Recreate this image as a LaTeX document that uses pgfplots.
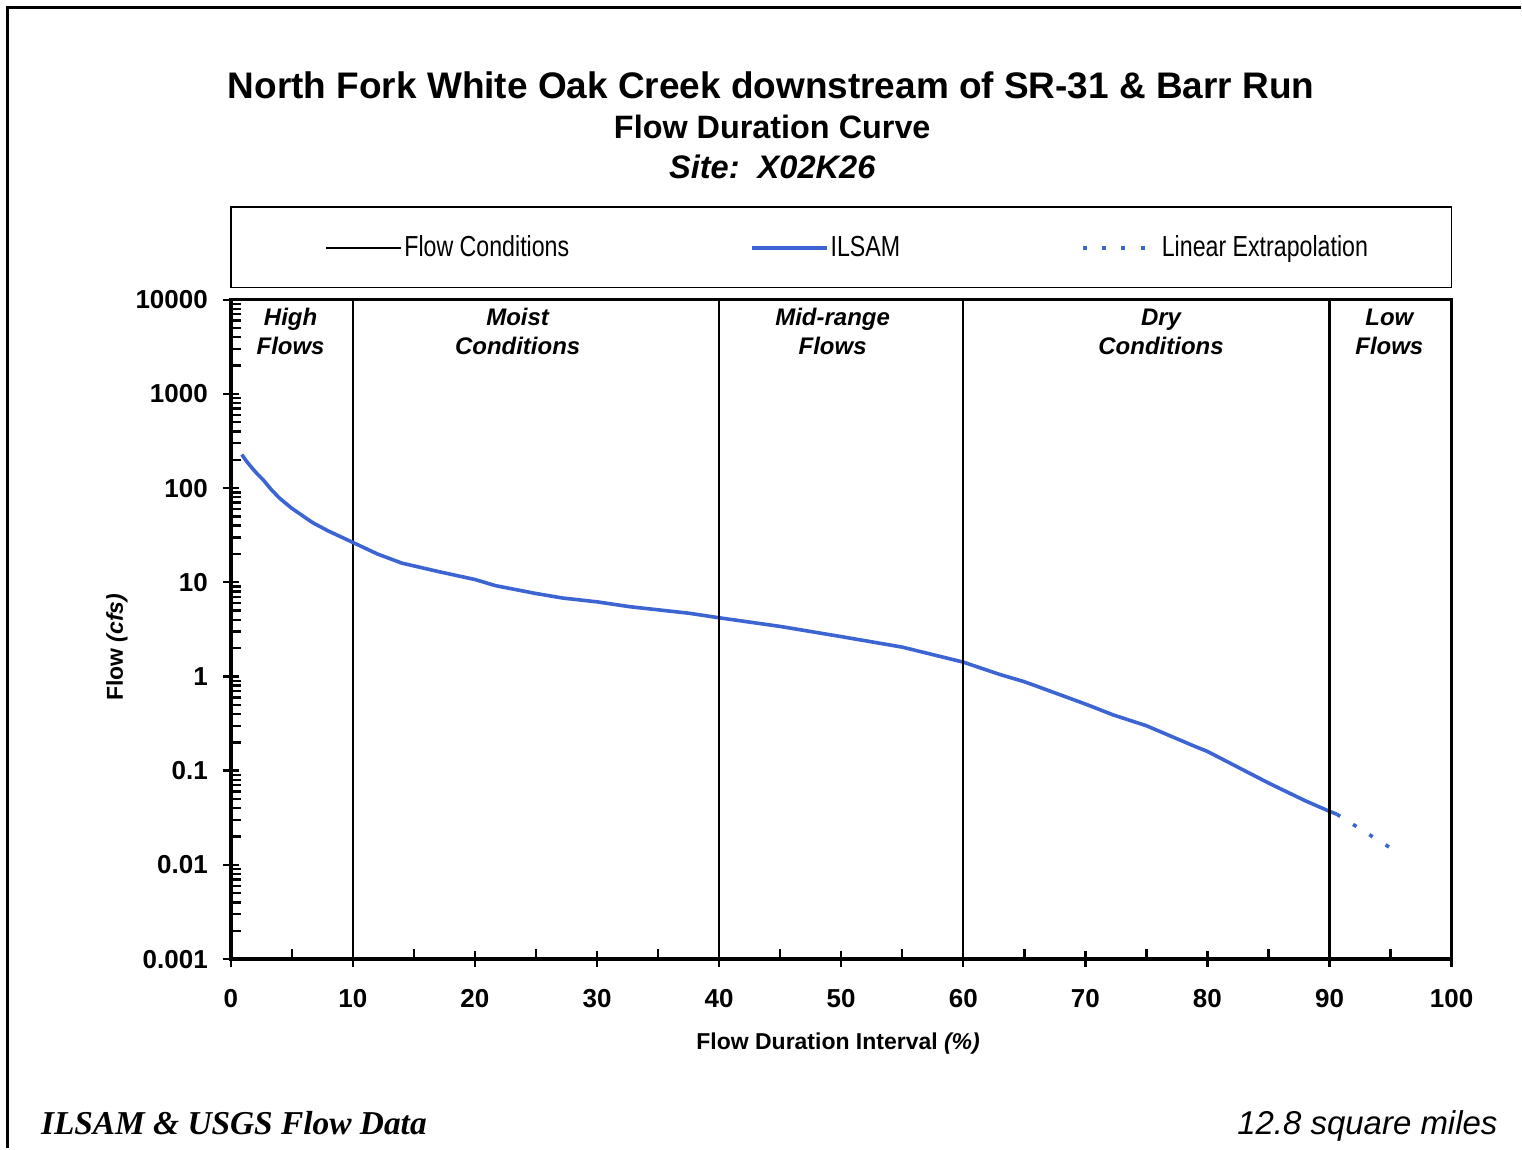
\documentclass[border=0pt]{standalone}
\usepackage{pgfplots}
\pgfplotsset{compat=1.18}
\usepackage{fontspec}
\setmainfont{Liberation Sans}
\newfontfamily\narrowf[FakeStretch=0.8]{Liberation Sans}
\newfontfamily\timesf{Liberation Serif}
\definecolor{ilsam}{RGB}{60,100,210}
\begin{document}
\begin{tikzpicture}
\path (0pt,0pt) rectangle (761pt,574.5pt);
\draw[line width=1.5pt] (4pt,0pt) -- (4pt,570.5pt) -- (761pt,570.5pt);
\node[anchor=base, font=\bfseries\fontsize{18.5}{22}\selectfont] at (386pt,525pt) {North Fork White Oak Creek downstream of SR-31 \& Barr Run};
\node[anchor=base, font=\bfseries\fontsize{16.2}{19}\selectfont] at (386.5pt,505pt) {Flow Duration Curve};
\node[anchor=base, font=\bfseries\itshape\fontsize{16.3}{19}\selectfont] at (386.5pt,485pt) {Site:\ \ X02K26};
\draw[line width=0.75pt] (115.5pt,471pt) rectangle (726.5pt,430.5pt);
\node[anchor=base west, font=\timesf\bfseries\itshape\fontsize{16.7}{19}\selectfont] at (17pt,6.5pt) {ILSAM \& USGS Flow Data};
\node[anchor=base east, font=\itshape\fontsize{16.5}{19}\selectfont] at (753pt,6.5pt) {12.8 square miles};
\begin{axis}[
  at={(115.5pt,94.5pt)}, anchor=south west,
  scale only axis, width=611pt, height=330pt,
  xmin=0, xmax=100, ymin=0.001, ymax=10000, ymode=log,
  axis line style={line width=1.75pt},
  xtick={0,10,...,100}, minor xtick={5,15,...,95},
  ytick={0.001,0.01,0.1,1,10,100,1000,10000},
  yticklabels={0.001,0.01,0.1,1,10,100,1000,10000},
  minor ytick={0.002,0.003,0.004,0.005,0.006,0.007,0.008,0.009,
    0.02,0.03,0.04,0.05,0.06,0.07,0.08,0.09,
    0.2,0.3,0.4,0.5,0.6,0.7,0.8,0.9,
    2,3,4,5,6,7,8,9,20,30,40,50,60,70,80,90,
    200,300,400,500,600,700,800,900,2000,3000,4000,5000,6000,7000,8000,9000},
  xtick pos=bottom, ytick pos=left,
  tick align=center,
  major tick length=8pt, minor tick length=5pt,
  tick style={line width=1.2pt, black},
  every minor x tick/.append style={yshift=2.5pt},
  every minor y tick/.append style={xshift=2.5pt},
  /pgf/number format/assume math mode=true,
  ticklabel style={font=\bfseries\fontsize{13}{15}\selectfont},
  xticklabel style={yshift=-7.5pt},
  yticklabel style={xshift=-4pt},
  xlabel={Flow Duration Interval \textit{(\%)}},
  ylabel={Flow \textit{(cfs)}},
  label style={font=\bfseries\fontsize{11.5}{14}\selectfont},
  xlabel style={at={(axis description cs:0.4975,-0.1288)}, anchor=center},
  ylabel style={at={(axis description cs:-0.0933,0.4727)}, anchor=center},
  legend columns=3,
  legend image code/.code={\draw[#1] (0pt,0pt) -- (37.5pt,0pt);},
  legend style={at={(axis description cs:0.0769,1.0788)}, anchor=west,
    draw=none, fill=none, inner sep=0pt, font=\narrowf\fontsize{14.5}{17}\selectfont,
    nodes={inner sep=1pt}, legend cell align=left},
]
\addplot[black, line width=1.2pt] coordinates {(10,0.001) (10,10000)};
\addlegendentry{\makebox[172pt][l]{Flow Conditions}}
\addplot[ilsam, line width=1.8pt] coordinates {
(0.9,227) (1.3,192) (1.8,160) (2.2,140) (2.64,123) (3.3,97) (4,78) (5,61) (6.7,43) (8,35)
(10,26.5) (12,20) (14,16) (17,13) (20,10.7) (21.7,9.2) (25,7.6) (27.2,6.8)
(30,6.2) (32.7,5.5) (35,5.1) (37.5,4.7) (40,4.2) (45,3.4) (50,2.65) (55,2.05)
(60,1.42) (63,1.05) (65,0.88) (66,0.79) (70,0.51) (72.3,0.39) (75,0.30)
(78.8,0.185) (80,0.16) (85,0.074) (88,0.048) (90,0.037) (90.6,0.0345)};
\addlegendentry{\makebox[124.5pt][l]{ILSAM}}
\addplot[ilsam, line width=1.8pt, dash pattern=on 2pt off 7.6pt] coordinates {(90.6,0.0345) (95,0.0151)};
\addlegendentry{Linear Extrapolation}
\addplot[black, line width=1.2pt, forget plot] coordinates {(40,0.001) (40,10000)};
\addplot[black, line width=1.2pt, forget plot] coordinates {(60,0.001) (60,10000)};
\addplot[black, line width=1.2pt, forget plot] coordinates {(90,0.001) (90,10000)};
\begin{scope}[every node/.style={align=center, font=\bfseries\itshape\fontsize{12}{14.5}\selectfont}]
\node at (axis description cs:0.049,0.9515) {High\\Flows};
\node at (axis description cs:0.235,0.9515) {Moist\\Conditions};
\node at (axis description cs:0.493,0.9515) {Mid-range\\Flows};
\node at (axis description cs:0.762,0.9515) {Dry\\Conditions};
\node at (axis description cs:0.949,0.9515) {Low\\Flows};
\end{scope}
\end{axis}
\end{tikzpicture}
\end{document}
